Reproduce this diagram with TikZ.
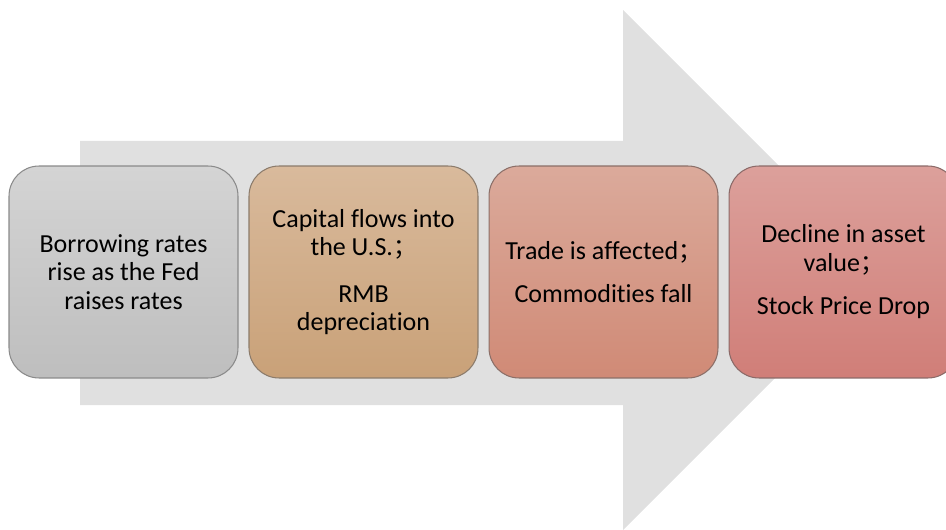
\documentclass[tikz,border=0pt]{standalone}
\usepackage{fontspec}
\setmainfont{Carlito}[Ligatures={NoCommon}]
\newfontfamily\cjk{Noto Sans CJK SC}[Scale=0.9]
\usepackage{tikz}
\definecolor{arrowgrey}{HTML}{E0E0E0}
\definecolor{greytop}{HTML}{D4D4D4}
\definecolor{greybot}{HTML}{BEBEBE}
\definecolor{greyline}{HTML}{8A8A8A}
\definecolor{sandtop}{HTML}{D9BA9C}
\definecolor{sandbot}{HTML}{C9A178}
\definecolor{sandline}{HTML}{8B7B6B}
\definecolor{salmontop}{HTML}{DBAA9B}
\definecolor{salmonbot}{HTML}{D08A76}
\definecolor{salmonline}{HTML}{8B6F68}
\definecolor{rosetop}{HTML}{DCA09B}
\definecolor{rosebot}{HTML}{D07E78}
\definecolor{roseline}{HTML}{8B6A68}
\newcommand{\fsemi}{{\cjk ；}}

\begin{document}
\begin{tikzpicture}[x=0.02cm,y=-0.02cm]
  \tikzstyle{every node}=[font=\fontsize{14.8}{16.2}\selectfont]
  \tikzstyle{stage}=[draw,line width=0.6pt,rounded corners=0.6cm,
    minimum width=4.58cm,minimum height=4.24cm,align=center,inner sep=2pt]
  \useasboundingbox (0,0) rectangle (946,530);
  \clip (0,0) rectangle (946,530);
  \fill[arrowgrey]
  (80,141) -- (623,141) -- (623,10) -- (883,270)
  -- (623,530) -- (623,405) -- (80,405) -- cycle;
  \path
  (123.5,272) node[stage,top color=greytop,bottom color=greybot,draw=greyline] (rates)
  {Borrowing rates\\rise as the Fed\\raises rates}
  ++(240,0) node[stage,top color=sandtop,bottom color=sandbot,draw=sandline] (capital)
  {Capital flows into\\the U.S.\fsemi\\[0.36cm]RMB\\depreciation}
  ++(240,0) node[stage,top color=salmontop,bottom color=salmonbot,draw=salmonline] (trade)
  {Trade is affected\fsemi\\[0.3cm]Commodities fall}
  ++(240,0) node[stage,top color=rosetop,bottom color=rosebot,draw=roseline] (asset)
  {Decline in asset\\value\fsemi\\[0.3cm]Stock Price Drop};
\end{tikzpicture}
\end{document}
